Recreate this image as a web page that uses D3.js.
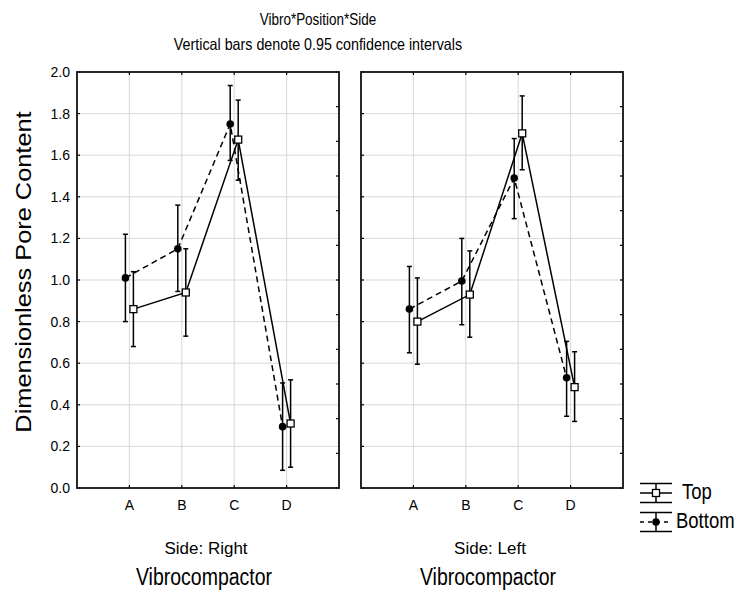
<!DOCTYPE html>
<html>
<head>
<meta charset="utf-8">
<script src="https://cdn.jsdelivr.net/npm/d3@7"></script>
<style>
  html, body { margin: 0; padding: 0; background: #fff; }
  svg { display: block; font-family: "Liberation Sans", Arial, sans-serif; }
</style>
</head>
<body>
<svg id="chart" width="736" height="590"></svg>
<script>
// ---- data ----
const categories = ["A", "B", "C", "D"];
const sides = ["Side: Right", "Side: Left"];
const seriesNames = ["Top", "Bottom"];
const yTicks = [0, 0.2, 0.4, 0.6, 0.8, 1.0, 1.2, 1.4, 1.6, 1.8, 2.0];

// Side: Right
const topMeanRight = [0.86, 0.94, 1.675, 0.31];
const topLowRight = [0.68, 0.73, 1.48, 0.10];
const topHighRight = [1.04, 1.15, 1.865, 0.52];
const bottomMeanRight = [1.01, 1.15, 1.75, 0.295];
const bottomLowRight = [0.80, 0.945, 1.575, 0.085];
const bottomHighRight = [1.22, 1.36, 1.935, 0.505];
// Side: Left
const topMeanLeft = [0.80, 0.93, 1.705, 0.485];
const topLowLeft = [0.595, 0.725, 1.53, 0.32];
const topHighLeft = [1.01, 1.14, 1.885, 0.655];
const bottomMeanLeft = [0.86, 0.995, 1.49, 0.53];
const bottomLowLeft = [0.65, 0.785, 1.295, 0.345];
const bottomHighLeft = [1.065, 1.20, 1.68, 0.705];

const panelsData = [
  { side: sides[0], series: [
    { name: seriesNames[0], mean: topMeanRight, lo: topLowRight, hi: topHighRight },
    { name: seriesNames[1], mean: bottomMeanRight, lo: bottomLowRight, hi: bottomHighRight } ] },
  { side: sides[1], series: [
    { name: seriesNames[0], mean: topMeanLeft, lo: topLowLeft, hi: topHighLeft },
    { name: seriesNames[1], mean: bottomMeanLeft, lo: bottomLowLeft, hi: bottomHighLeft } ] }
];

// ---- layout ----
const svg = d3.select("#chart");
const plotTop = 72, plotBottom = 488;
const panelX = [[77, 339], [361, 623]];
const labelShift = [-4, -4];
const offset = { Top: 4, Bottom: -4 };
const stretch = 1.18; // text in the reference is slightly taller than wide
const y = d3.scaleLinear().domain([0, 2]).range([plotBottom, plotTop]);
const yRight = d3.scaleLinear().domain([0, 12]).range([plotBottom, plotTop]);
const gridColor = "#d8d8d8";

function tallText(parent, x, yy, size, txt, anchor, sy) {
  return parent.append("text")
    .attr("transform", `translate(${x},${yy}) scale(1,${sy || stretch})`)
    .attr("text-anchor", anchor || "middle").attr("font-size", size).text(txt);
}

tallText(svg, 318, 25, 13.5, "Vibro*Position*Side");
tallText(svg, 318, 50, 14.3, "Vertical bars denote 0.95 confidence intervals");

svg.append("text")
  .attr("transform", `translate(31,${(plotTop + plotBottom) / 2 - 8}) rotate(-90) scale(${stretch},1)`)
  .attr("text-anchor", "middle").attr("font-size", 21.5)
  .text("Dimensionless Pore Content");

// y tick labels (left of first panel)
svg.append("g").selectAll("text").data(yTicks).join("text")
  .attr("x", 70).attr("y", d => y(d) + 5)
  .attr("text-anchor", "end").attr("font-size", 14)
  .text(d => d.toFixed(1));

panelsData.forEach((p, i) => {
  const [x0, x1] = panelX[i];
  const x = d3.scalePoint().domain(categories).range([x0, x1]).padding(1);
  const g = svg.append("g");

  // gridlines
  g.selectAll(".gy").data(yTicks.slice(1, -1)).join("line")
    .attr("x1", x0).attr("x2", x1).attr("y1", d => y(d)).attr("y2", d => y(d))
    .attr("stroke", gridColor).attr("stroke-width", 1);
  g.selectAll(".gx").data(categories).join("line")
    .attr("x1", d => x(d)).attr("x2", d => x(d)).attr("y1", plotTop).attr("y2", plotBottom)
    .attr("stroke", gridColor).attr("stroke-width", 1);

  // ticks: left (0.2 steps), right (12 divisions), top/bottom at categories
  g.selectAll(".tl").data(yTicks).join("line")
    .attr("x1", x0).attr("x2", x0 + 3).attr("y1", d => y(d)).attr("y2", d => y(d))
    .attr("stroke", "#000").attr("stroke-width", 1.2);
  g.selectAll(".tr").data(yRight.ticks(12)).join("line")
    .attr("x1", x1 - 3).attr("x2", x1).attr("y1", d => yRight(d)).attr("y2", d => yRight(d))
    .attr("stroke", "#000").attr("stroke-width", 1.2);
  g.selectAll(".tt").data(categories).join("line")
    .attr("x1", d => x(d)).attr("x2", d => x(d)).attr("y1", plotTop).attr("y2", plotTop + 3)
    .attr("stroke", "#000").attr("stroke-width", 1.2);
  g.selectAll(".tb").data(categories).join("line")
    .attr("x1", d => x(d)).attr("x2", d => x(d)).attr("y1", plotBottom - 3).attr("y2", plotBottom)
    .attr("stroke", "#000").attr("stroke-width", 1.2);

  // border
  g.append("rect").attr("x", x0).attr("y", plotTop).attr("width", x1 - x0).attr("height", plotBottom - plotTop)
    .attr("fill", "none").attr("stroke", "#111").attr("stroke-width", 1.8);

  // category labels
  g.selectAll(".cl").data(categories).join("text")
    .attr("x", d => x(d)).attr("y", plotBottom + 22).attr("text-anchor", "middle")
    .attr("font-size", 14).text(d => d);

  // side label + axis title
  tallText(g, (x0 + x1) / 2 + labelShift[i] + 2, plotBottom + 66, 17, p.side, "middle", 1.02);
  tallText(g, (x0 + x1) / 2 + labelShift[i], plotBottom + 97, 19.5, "Vibrocompactor");

  // series: lines first (bottom dashed, then top solid)
  const ordered = [p.series[1], p.series[0]];
  ordered.forEach(s => {
    const px = c => x(c) + offset[s.name];
    const line = d3.line().x((d, k) => px(categories[k])).y(d => y(d));
    g.append("path").datum(s.mean).attr("d", line)
      .attr("fill", "none").attr("stroke", "#000").attr("stroke-width", 1.5)
      .attr("stroke-dasharray", s.name === "Bottom" ? "6,4" : null);
  });
  ordered.forEach(s => {
    const px = c => x(c) + offset[s.name];
    const eb = g.append("g");
    categories.forEach((c, k) => {
      const cx = px(c);
      eb.append("line").attr("x1", cx).attr("x2", cx).attr("y1", y(s.lo[k])).attr("y2", y(s.hi[k]))
        .attr("stroke", "#000").attr("stroke-width", 1.5);
      [s.lo[k], s.hi[k]].forEach(v => {
        eb.append("line").attr("x1", cx - 2.5).attr("x2", cx + 2.5).attr("y1", y(v)).attr("y2", y(v))
          .attr("stroke", "#000").attr("stroke-width", 1.5);
      });
    });
  });
  ordered.forEach(s => {
    const px = c => x(c) + offset[s.name];
    if (s.name === "Top") {
      g.selectAll(null).data(s.mean).join("rect")
        .attr("x", (d, k) => px(categories[k]) - 3.5).attr("y", d => y(d) - 3.5)
        .attr("width", 7).attr("height", 7)
        .attr("fill", "#fff").attr("stroke", "#000").attr("stroke-width", 1.3);
    } else {
      g.selectAll(null).data(s.mean).join("circle")
        .attr("cx", (d, k) => px(categories[k])).attr("cy", d => y(d)).attr("r", 3.8)
        .attr("fill", "#000");
    }
  });
});

// legend
const lg = svg.append("g");
seriesNames.forEach((name, i) => {
  const cy = 493 + i * 29;
  const lx0 = 640, lx1 = 672, mx = 656;
  lg.append("line").attr("x1", lx0).attr("x2", lx1).attr("y1", cy - 9.5).attr("y2", cy - 9.5)
    .attr("stroke", "#000").attr("stroke-width", 1.5);
  lg.append("line").attr("x1", lx0).attr("x2", lx1).attr("y1", cy + 9.5).attr("y2", cy + 9.5)
    .attr("stroke", "#000").attr("stroke-width", 1.5);
  lg.append("line").attr("x1", mx).attr("x2", mx).attr("y1", cy - 9.5).attr("y2", cy + 9.5)
    .attr("stroke", "#000").attr("stroke-width", 1.5);
  lg.append("line").attr("x1", lx0).attr("x2", lx1).attr("y1", cy).attr("y2", cy)
    .attr("stroke", "#000").attr("stroke-width", 1.5)
    .attr("stroke-dasharray", name === "Bottom" ? "4,4" : null);
  if (name === "Top") {
    lg.append("rect").attr("x", mx - 3.5).attr("y", cy - 3.5).attr("width", 7).attr("height", 7)
      .attr("fill", "#fff").attr("stroke", "#000").attr("stroke-width", 1.3);
  } else {
    lg.append("circle").attr("cx", mx).attr("cy", cy).attr("r", 3.8).attr("fill", "#000");
  }
  tallText(lg, name === "Top" ? 682 : 676, cy + 6, 18.5, name, "start");
});
</script>
</body>
</html>
